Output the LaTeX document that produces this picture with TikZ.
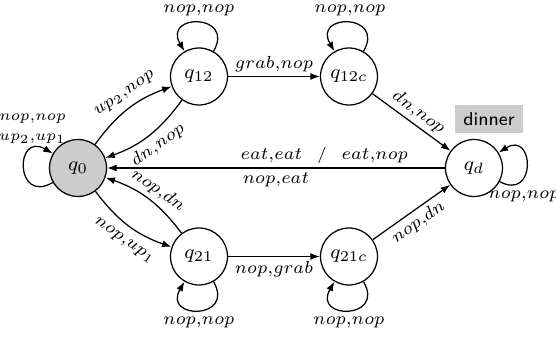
\documentclass[tikz,border=0pt]{standalone}
\usetikzlibrary{arrows.meta}
\begin{document}
\begin{tikzpicture}[x=0.4pt,y=0.4pt,
  state/.style={circle,draw,line width=0.5pt,minimum size=22.8pt,inner sep=0pt,font=\fontsize{8}{9}\selectfont},
  lbl/.style={font=\fontsize{6.6}{8}\selectfont,inner sep=1.5pt},
  >={Latex[length=3.8pt,width=2.8pt]},
  line width=0.5pt]
\useasboundingbox (0,0) rectangle (556,341);
\node[state,fill=gray!40] (q0) at (78,173) {$q_0$};
\node[state] (q12) at (199,264.5) {$q_{12}$};
\node[state] (q12c) at (349,264.5) {$q_{12c}$};
\node[state] (q21) at (199,84.5) {$q_{21}$};
\node[state] (q21c) at (349,84.5) {$q_{21c}$};
\node[state] (qd) at (474,173) {$q_d$};
\node[fill=gray!40,minimum width=27.2pt,minimum height=11.2pt,inner sep=0pt,font=\sffamily\fontsize{7.5}{9}\selectfont] (din) at (489,222) {dinner};
% loops
\draw[->] (q12.60) .. controls +(60:44) and +(120:44) .. (q12.120);
\draw[->] (q12c.60) .. controls +(60:44) and +(120:44) .. (q12c.120);
\draw[->] (q21.-60) .. controls +(-60:44) and +(-120:44) .. (q21.-120);
\draw[->] (q21c.-60) .. controls +(-60:44) and +(-120:44) .. (q21c.-120);
\draw[->] (q0.210) .. controls +(210:44) and +(150:44) .. (q0.150);
\draw[->] (qd.-28) .. controls +(-28:42) and +(32:42) .. (qd.32);
\node[lbl] (l12) at (199,331) {$nop{,}nop$};
\node[lbl] (l12c) at (350,331) {$nop{,}nop$};
\node[lbl] (l21) at (199,18.5) {$nop{,}nop$};
\node[lbl] (l21c) at (349,18.5) {$nop{,}nop$};
\node[lbl] (ld) at (524,145) {$nop{,}nop$};
\node[lbl,font=\fontsize{5.6}{8}\selectfont,align=center] (l0) at (32.5,212) {$nop{,}nop$\\$up_2{,}up_1$};
% curved edges between q0 and q12 / q21
\draw[->] (q0) to[bend left=17] (q12);
\draw[->] (q12) to[bend left=17] (q0);
\draw[->] (q0) to[bend right=17] (q21);
\draw[->] (q21) to[bend right=17] (q0);
\node[lbl,rotate=35] (lup) at (125,247) {$up_2{,}nop$};
\node[lbl,rotate=35] (ldn) at (158,196) {$dn{,}nop$};
\node[lbl,rotate=-35] (lnd) at (158,151) {$nop{,}dn$};
\node[lbl,rotate=-35] (lnu) at (124,100) {$nop{,}up_1$};
% straight edges
\draw[->] (q12) -- node[lbl,above] {$grab{,}nop$} (q12c);
\draw[->] (q21) -- node[lbl,below] {$nop{,}grab$} (q21c);
\draw[->] (q12c) -- node[lbl,sloped,above] {$dn{,}nop$} (qd);
\draw[->] (q21c) -- node[lbl,sloped,below] {$nop{,}dn$} (qd);
\draw[->] (qd) -- node[lbl,above,pos=0.357] {$eat{,}eat$\hspace{6pt}/\hspace{6pt}$eat{,}nop$} node[lbl,below] {$nop{,}eat$} (q0);
\end{tikzpicture}
\end{document}
